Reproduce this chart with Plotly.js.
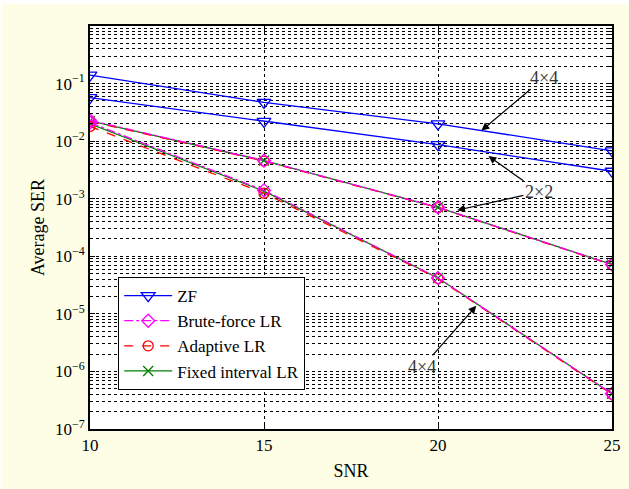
<!DOCTYPE html>
<html>
<head>
<meta charset="utf-8">
<script src="https://cdn.plot.ly/plotly-3.0.1.min.js"></script>
<style>html,body{margin:0;padding:0;background:#ffffff;}</style>
</head>
<body>
<div id="chart" style="width:627px;height:485px;margin-top:4px;margin-left:2px;"></div>
<script>
const snr = [10, 15, 20, 25];
const zf4x4 = [0.14, 0.047, 0.020, 0.0068];
const zf2x2 = [0.057, 0.022, 0.0087, 0.0030];
const bf2x2 = [0.023, 0.0046, 0.00071, 0.000072];
const ad2x2 = [0.022, 0.0045, 0.00070, 0.000071];
const fi2x2 = [0.0225, 0.0046, 0.00071, 0.000072];
const bf4x4 = [0.021, 0.00140, 0.000042, 0.00000041];
const ad4x4 = [0.018, 0.00125, 0.000041, 0.00000040];
const fi4x4 = [0.020, 0.00135, 0.000042, 0.00000041];
const yTickVals = [1e-7, 1e-6, 1e-5, 1e-4, 1e-3, 1e-2, 1e-1];
const yTickText = ['10<sup>−7</sup>', '10<sup>−6</sup>', '10<sup>−5</sup>', '10<sup>−4</sup>', '10<sup>−3</sup>', '10<sup>−2</sup>', '10<sup>−1</sup>'];
const xTickVals = [10, 15, 20, 25];

const font = 'Liberation Serif, Times New Roman, serif';
const blue = '#0000ff', mag = '#ff00ff', red = '#ff0000', green = '#008000';

function tr(y, name, color, dash, symbol, show, msize, rank) {
  return {x: snr, y: y, name: name, type: 'scatter', mode: 'lines+markers',
    line: {color: color, width: 1.3, dash: dash},
    marker: {symbol: symbol, size: msize, color: color, line: {color: color, width: 1.3}},
    showlegend: show, legendrank: rank};
}

const data = [
  tr(zf4x4, 'ZF', blue, 'solid', 'triangle-down-open', true, 12, 1),
  tr(zf2x2, 'ZF', blue, 'solid', 'triangle-down-open', false, 12, 1),
  tr(fi2x2, 'Fixed interval LR', green, 'solid', 'x-thin-open', true, 10, 4),
  tr(fi4x4, 'Fixed interval LR', green, 'solid', 'x-thin-open', false, 10, 4),
  tr(ad2x2, 'Adaptive LR', red, 'dash', 'circle-open', true, 10, 3),
  tr(ad4x4, 'Adaptive LR', red, 'dash', 'circle-open', false, 10, 3),
  tr(bf2x2, 'Brute-force LR', mag, 'dashdot', 'diamond-open', true, 10, 2),
  tr(bf4x4, 'Brute-force LR', mag, 'dashdot', 'diamond-open', false, 10, 2)
];

const arrowCommon = {showarrow: true, arrowhead: 2, arrowsize: 1.3, arrowwidth: 1.2,
  arrowcolor: '#000', xref: 'x', yref: 'y', axref: 'x', ayref: 'y',
  font: {family: font, size: 18, color: '#333'}};

const layout = {
  width: 627, height: 485,
  paper_bgcolor: '#fefee6', plot_bgcolor: '#ffffff',
  margin: {l: 88, r: 17, t: 22, b: 60},
  font: {family: font, size: 17, color: '#000'},
  xaxis: {
    range: [10, 25], tickvals: xTickVals, ticktext: xTickVals.map(String),
    showgrid: true, gridcolor: '#000', griddash: 'dot', gridwidth: 1,
    ticks: 'inside', ticklen: 5, tickcolor: '#000', mirror: 'allticks',
    showline: true, linecolor: '#000', linewidth: 2, zeroline: false,
    tickfont: {family: font, size: 17},
    title: {text: 'SNR', font: {family: font, size: 18}, standoff: 10}
  },
  yaxis: {
    type: 'log', range: [-7, 0], tickvals: yTickVals, ticktext: yTickText,
    showgrid: true, gridcolor: '#000', griddash: 'dot', gridwidth: 1,
    ticks: 'inside', ticklen: 5, tickcolor: '#000', mirror: 'allticks',
    showline: true, linecolor: '#000', linewidth: 2, zeroline: false,
    tickfont: {family: font, size: 17},
    minor: {dtick: 'D1', showgrid: true, gridcolor: '#000', griddash: 'dot', gridwidth: 1,
            ticks: 'inside', ticklen: 3, tickcolor: '#000'},
    title: {text: 'Average SER', font: {family: font, size: 18}, standoff: 6}
  },
  legend: {
    x: 0.054, y: 0.377, xanchor: 'left', yanchor: 'top',
    bgcolor: '#ffffff', bordercolor: '#000', borderwidth: 1,
    font: {family: font, size: 17}, tracegroupgap: 0,
    itemwidth: 48, traceorder: 'normal'
  },
  annotations: [
    Object.assign({}, arrowCommon, {x: 21.25, y: -1.815, ax: 23.05, ay: -0.9, text: '4×4'}),
    Object.assign({}, arrowCommon, {x: 21.45, y: -2.26, ax: 22.9, ay: -2.88, text: '2×2'}),
    Object.assign({}, arrowCommon, {x: 20.55, y: -3.2, ax: 22.9, ay: -2.88, text: '2×2', font: {family: font, size: 18, color: 'rgba(0,0,0,0)'}}),
    Object.assign({}, arrowCommon, {x: 21.1, y: -4.86, ax: 19.55, ay: -5.92, text: '4×4'})
  ],
  showlegend: true
};

Plotly.newPlot('chart', data, layout, {displayModeBar: false, staticPlot: true});
</script>
</body>
</html>
